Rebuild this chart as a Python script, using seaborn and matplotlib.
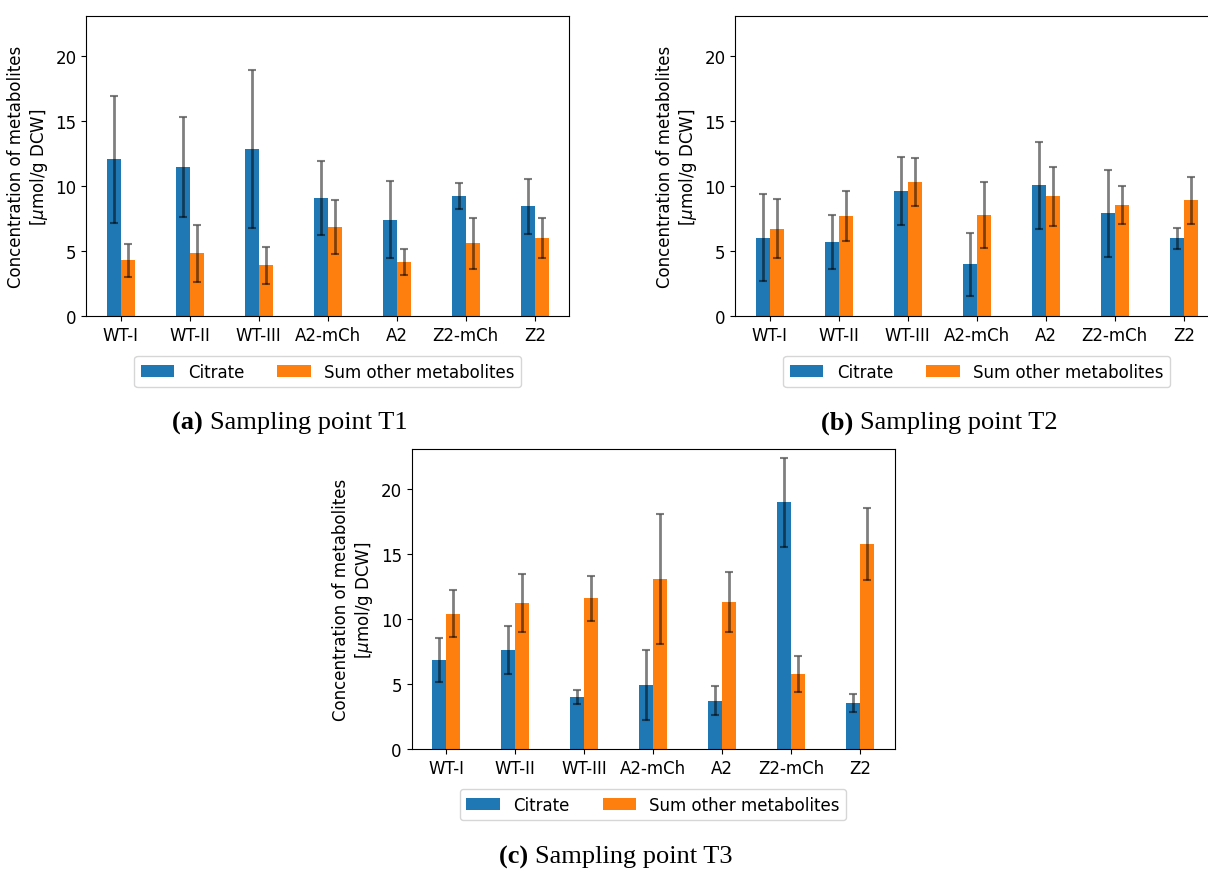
import matplotlib
matplotlib.use("Agg")
import matplotlib.pyplot as plt
import numpy as np
import pandas as pd
import seaborn as sns

strains = ["WT-I", "WT-II", "WT-III", "A2-mCh", "A2", "Z2-mCh", "Z2"]
series_names = ["Citrate", "Sum other metabolites"]

# Sampling point T1
t1_citrate = [12.05, 11.5, 12.86, 9.1, 7.42, 9.26, 8.44]
t1_citrate_err = [4.85, 3.85, 6.06, 2.85, 2.95, 1.0, 2.1]
t1_other = [4.3, 4.83, 3.91, 6.85, 4.14, 5.6, 6.01]
t1_other_err = [1.27, 2.17, 1.42, 2.05, 1.0, 1.96, 1.56]

# Sampling point T2
t2_citrate = [6.04, 5.68, 9.64, 3.99, 10.08, 7.9, 5.98]
t2_citrate_err = [3.36, 2.07, 2.63, 2.43, 3.35, 3.33, 0.78]
t2_other = [6.73, 7.7, 10.33, 7.8, 9.21, 8.54, 8.9]
t2_other_err = [2.25, 1.9, 1.84, 2.53, 2.28, 1.46, 1.78]

# Sampling point T3
t3_citrate = [6.85, 7.6, 3.99, 4.94, 3.73, 18.98, 3.55]
t3_citrate_err = [1.71, 1.85, 0.54, 2.69, 1.12, 3.4, 0.7]
t3_other = [10.43, 11.23, 11.61, 13.07, 11.3, 5.8, 15.78]
t3_other_err = [1.78, 2.24, 1.73, 4.98, 2.29, 1.4, 2.74]

captions = [("(a)", "Sampling point T1"),
            ("(b)", "Sampling point T2"),
            ("(c)", "Sampling point T3")]

colors = ["#1f77b4", "#ff7f0e"]
plt.rcParams["font.family"] = ["DejaVu Sans"]
plt.rcParams["font.size"] = 12

fig = plt.figure(figsize=(12.08, 8.70), dpi=100)
W, H = 1208, 870
ax_w, ax_h = 483 / W, 300 / H
axes = [
    fig.add_axes([86.3 / W, 1 - 317.3 / H, ax_w, ax_h]),
    fig.add_axes([735.3 / W, 1 - 317.3 / H, ax_w, ax_h]),
    fig.add_axes([411.5 / W, 1 - 750.3 / H, ax_w, ax_h]),
]

panels = [
    (t1_citrate, t1_citrate_err, t1_other, t1_other_err),
    (t2_citrate, t2_citrate_err, t2_other, t2_other_err),
    (t3_citrate, t3_citrate_err, t3_other, t3_other_err),
]

for ax, (cit, cit_err, oth, oth_err) in zip(axes, panels):
    df = pd.DataFrame({
        "strain": strains * 2,
        "series": [series_names[0]] * len(strains) + [series_names[1]] * len(strains),
        "value": list(cit) + list(oth),
    })
    sns.barplot(data=df, x="strain", y="value", hue="series",
                hue_order=series_names, order=strains,
                palette=colors, saturation=1, width=0.4, gap=0,
                errorbar=None, linewidth=0, ax=ax)
    for cont, vals, errs in zip(ax.containers, [cit, oth], [cit_err, oth_err]):
        xs = [p.get_x() + p.get_width() / 2 for p in cont]
        ax.errorbar(xs, vals, yerr=errs, fmt="none", ecolor="black",
                    alpha=0.5, capsize=3, elinewidth=2, capthick=1.5)
    ax.set_ylim(0, 23.05)
    ax.set_xlim(-0.5, len(strains) - 0.5)
    ax.set_yticks([0, 5, 10, 15, 20])
    ax.set_xlabel("")
    ax.set_ylabel("Concentration of metabolites\n[$\\mu$mol/g DCW]")
    handles, labels = ax.get_legend_handles_labels()
    ax.legend(handles, labels, loc="upper center", bbox_to_anchor=(0.5, -0.105),
              ncol=2, frameon=True)

# sub-captions: bold tag followed by regular text, centred as a pair
cap_pos = [(290 / W, 1 - 423 / H), (939 / W, 1 - 423 / H), (616 / W, 1 - 857 / H)]
pairs = []
for (tag, txt), (cx, cy) in zip(captions, cap_pos):
    t1 = fig.text(cx, cy, tag + " ", family="Liberation Serif", fontsize=19,
                  fontweight="bold", ha="left", va="center")
    t2 = fig.text(cx, cy, txt, family="Liberation Serif", fontsize=19,
                  ha="left", va="center")
    pairs.append((t1, t2, cx))

fig.canvas.draw()
renderer = fig.canvas.get_renderer()
for t1, t2, cx in pairs:
    w1 = t1.get_window_extent(renderer).width / W
    w2 = t2.get_window_extent(renderer).width / W
    x0 = cx - (w1 + w2) / 2
    y = t1.get_position()[1]
    t1.set_position((x0, y))
    t2.set_position((x0 + w1, y))

fig.savefig("out.png", dpi=100)
